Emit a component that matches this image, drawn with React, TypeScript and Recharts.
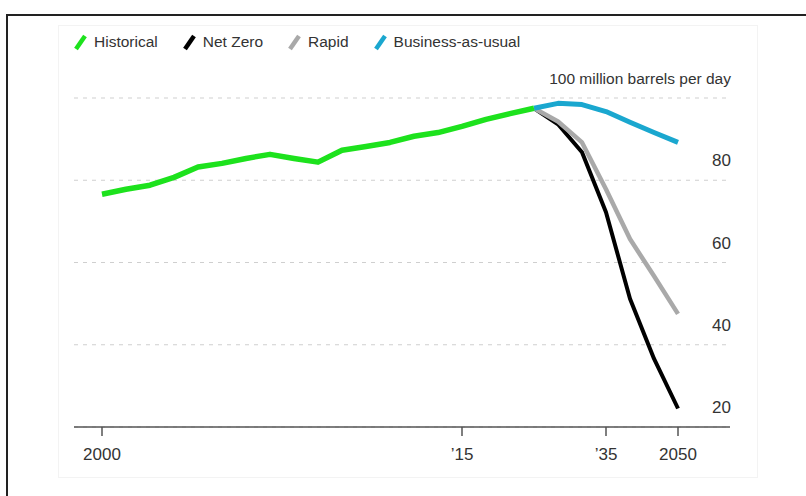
import { CartesianGrid, Line, LineChart, XAxis, YAxis } from "recharts";

const years = [
  "2000", "2001", "2002", "2003", "2004", "2005", "2006", "2007", "2008", "2009",
  "2010", "2011", "2012", "2013", "2014", "2015", "2016", "2017", "2018",
  "2025", "2030", "2035", "2040", "2045", "2050",
];
const historical = [
  76.6, 77.8, 78.8, 80.7, 83.2, 84.1, 85.3, 86.3, 85.3, 84.4,
  87.3, 88.2, 89.2, 90.7, 91.6, 93.1, 94.8, 96.2, 97.5,
];
// scenarios start at the last historical year (2018)
const netZero = [97.5, 93.6, 86.8, 72.2, 51.2, 36.6, 24.5];
const rapid = [97.5, 94.3, 89.2, 77.8, 65.7, 56.7, 47.5];
const businessAsUsual = [97.5, 98.7, 98.4, 96.7, 94.1, 91.6, 89.2];

const xTicks = ["2000", "2015", "2035", "2050"];
const yTicks = [20, 40, 60, 80, 100];

const legendItems = [
  { name: "Historical", color: "#1de21d" },
  { name: "Net Zero", color: "#000000" },
  { name: "Rapid", color: "#a9a9a9" },
  { name: "Business-as-usual", color: "#1aa7cf" },
];

const start = historical.length - 1;
const data = years.map((year, i) => ({
  year,
  historical: i < historical.length ? historical[i] : null,
  netZero: i >= start ? netZero[i - start] : null,
  rapid: i >= start ? rapid[i - start] : null,
  bau: i >= start ? businessAsUsual[i - start] : null,
}));

const font = "'Liberation Sans', Arial, sans-serif";

const formatYear = (v: string) =>
  v === "2015" || v === "2035" ? "\u2019" + v.slice(2) : v;

const renderYTick = (props: any) => {
  const { x, y, payload } = props;
  const top = payload.value === 100;
  return (
    <text
      key={payload.value}
      x={x + 1}
      y={y - 14}
      textAnchor="end"
      fill="#333"
      fontSize={top ? 15.5 : 17}
      fontFamily={font}
    >
      {top ? "100 million barrels per day" : payload.value}
    </text>
  );
};

function LegendRow() {
  return (
    <div
      style={{
        position: "absolute",
        left: 73,
        top: 33,
        display: "flex",
        alignItems: "center",
        fontFamily: font,
        fontSize: 15.5,
        color: "#333",
      }}
    >
      {legendItems.map((item) => (
        <div key={item.name} style={{ display: "flex", alignItems: "center", marginRight: 24 }}>
          <svg width={16} height={18} style={{ marginRight: 5 }}>
            <line x1={3} y1={16} x2={12} y2={3} stroke={item.color} strokeWidth={4.5} />
          </svg>
          <span>{item.name}</span>
        </div>
      ))}
    </div>
  );
}

export default function App() {
  return (
    <div style={{ position: "absolute", left: 0, top: 0, width: 806, height: 496, overflow: "hidden", background: "#fff" }}>
      <div
        style={{
          position: "absolute",
          left: 6,
          top: 14,
          width: 820,
          height: 500,
          borderLeft: "2px solid #222",
          borderTop: "2px solid #222",
        }}
      />
      <div
        style={{
          position: "absolute",
          left: 58,
          top: 25,
          width: 698,
          height: 451,
          border: "1px solid #f3f3f3",
        }}
      />
      <LegendRow />
      <div style={{ position: "absolute", left: 0, top: 0 }}>
        <LineChart width={806} height={496} data={data} margin={{ top: 98, right: 75, left: 74, bottom: 39 }}>
          <CartesianGrid vertical={false} stroke="#cfcfcf" strokeDasharray="4 5" />
          <XAxis
            dataKey="year"
            type="category"
            ticks={xTicks}
            interval={0}
            tickFormatter={formatYear}
            padding={{ left: 28, right: 52 }}
            height={30}
            axisLine={{ stroke: "#555", strokeWidth: 1.5 }}
            tickLine={{ stroke: "#555", strokeWidth: 1.5 }}
            tickSize={9}
            tickMargin={12}
            tick={{ fill: "#333", fontSize: 17, fontFamily: font }}
          />
          <YAxis
            orientation="right"
            domain={[20, 100]}
            ticks={yTicks}
            width={1}
            axisLine={false}
            tickLine={false}
            tickSize={0}
            tickMargin={0}
            interval={0}
            tick={renderYTick}
          />
          <Line dataKey="netZero" stroke="#000" strokeWidth={4} dot={false} isAnimationActive={false} strokeLinejoin="round" />
          <Line dataKey="rapid" stroke="#a9a9a9" strokeWidth={4.5} dot={false} isAnimationActive={false} strokeLinejoin="round" />
          <Line dataKey="bau" stroke="#1aa7cf" strokeWidth={5} dot={false} isAnimationActive={false} strokeLinejoin="round" />
          <Line dataKey="historical" stroke="#1de21d" strokeWidth={5.5} dot={false} isAnimationActive={false} strokeLinejoin="round" />
        </LineChart>
      </div>
    </div>
  );
}
